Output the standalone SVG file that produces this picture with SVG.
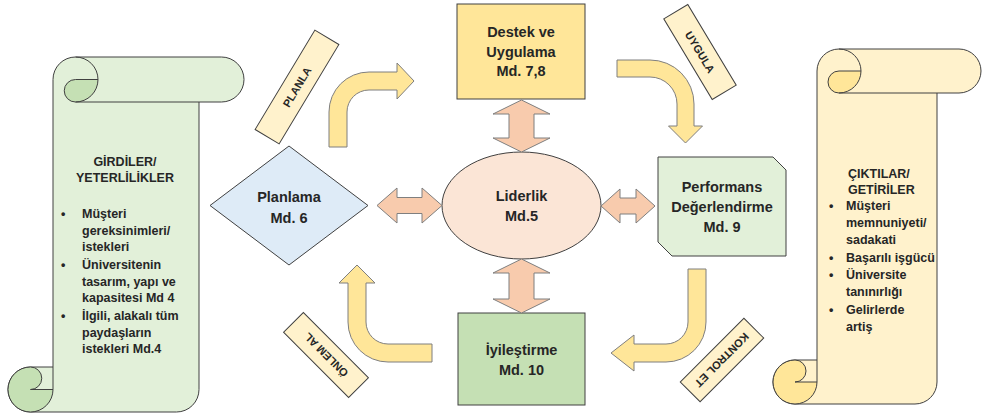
<svg xmlns="http://www.w3.org/2000/svg" width="982" height="415" viewBox="0 0 982 415">
  <style>
    text { font-family: "Liberation Sans", Arial, sans-serif; font-weight: bold; fill: #262626; }
    .node { font-size: 14.5px; text-anchor: middle; }
    .scroll { font-size: 12.5px; }
    .tag { font-size: 11px; text-anchor: middle; }
    .outline { stroke: #404040; stroke-width: 1; }
    .line { fill: none; stroke: #404040; stroke-width: 1; }
    .bend { fill: #FFE699; stroke: #7F7F7F; stroke-width: 1; }
    .link { fill: #F8CBAD; stroke: #7F7F7F; stroke-width: 1; }
    .label { fill: #FFF2CC; stroke: #404040; stroke-width: 1; }
  </style>

  <!-- Inputs scroll -->
  <g id="inputs">
    <path class="outline" fill="#E2F0D9" d="M53,79.5 A22.5,22.5 0 0 1 75.5,57 L221.5,57 A22.5,22.5 0 0 1 221.5,102 L199,102 L199,389.5 A22.5,22.5 0 0 1 176.5,412 L30.5,412 A22.5,22.5 0 0 1 8,389.5 A22.5,22.5 0 0 1 30.5,367 L53,367 Z"/>
    <path class="outline" fill="#C5E0B4" d="M98,79.5 A22.5,22.5 0 0 1 75.5,102 A11.25,11.25 0 0 1 75.5,79.5 Z"/>
    <path class="line" d="M75.5,57 A22.5,22.5 0 0 1 98,79.5 M75.5,102 L199,102 M53,367 L53,389.5"/>
    <path class="outline" fill="#C5E0B4" d="M30.5,389.5 A11.25,11.25 0 0 0 30.5,367 A22.5,22.5 0 1 0 53,389.5 Z"/>
    <text class="scroll" x="125" y="166" text-anchor="middle">GİRDİLER/</text>
    <text class="scroll" x="125" y="182" text-anchor="middle">YETERLİLİKLER</text>
    <text class="scroll" x="61" y="218">•</text>
    <text class="scroll" x="82" y="218">Müşteri</text>
    <text class="scroll" x="82" y="234.5">gereksinimleri/</text>
    <text class="scroll" x="82" y="251">istekleri</text>
    <text class="scroll" x="61" y="269">•</text>
    <text class="scroll" x="82" y="269">Üniversitenin</text>
    <text class="scroll" x="82" y="285.5">tasarım, yapı ve</text>
    <text class="scroll" x="82" y="302">kapasitesi Md 4</text>
    <text class="scroll" x="61" y="320">•</text>
    <text class="scroll" x="82" y="320">İlgili, alakalı tüm</text>
    <text class="scroll" x="82" y="336.5">paydaşların</text>
    <text class="scroll" x="82" y="353">istekleri Md.4</text>
  </g>

  <!-- Outputs scroll -->
  <g id="outputs">
    <path class="outline" fill="#FFF2CC" d="M817,71 A22,22 0 0 1 839,49 L959,49 A22,22 0 0 1 959,93 L937,93 L937,382 A22,22 0 0 1 915,404 L795,404 A22,22 0 0 1 773,382 A22,22 0 0 1 795,360 L817,360 Z"/>
    <path class="outline" fill="#FFE699" d="M861,71 A22,22 0 0 1 839,93 A11,11 0 0 1 839,71 Z"/>
    <path class="line" d="M839,49 A22,22 0 0 1 861,71 M839,93 L937,93 M817,360 L817,382"/>
    <path class="outline" fill="#FFE699" d="M795,382 A11,11 0 0 0 795,360 A22,22 0 1 0 817,382 Z"/>
    <text class="scroll" x="848" y="178">ÇIKTILAR/</text>
    <text class="scroll" x="848" y="194">GETİRİLER</text>
    <text class="scroll" x="829" y="210">•</text>
    <text class="scroll" x="846" y="210">Müşteri</text>
    <text class="scroll" x="846" y="227">memnuniyeti/</text>
    <text class="scroll" x="846" y="244">sadakati</text>
    <text class="scroll" x="829" y="261.5">•</text>
    <text class="scroll" x="846" y="261.5">Başarılı işgücü</text>
    <text class="scroll" x="829" y="279">•</text>
    <text class="scroll" x="846" y="279">Üniversite</text>
    <text class="scroll" x="846" y="296">tanınırlığı</text>
    <text class="scroll" x="829" y="314">•</text>
    <text class="scroll" x="846" y="314">Gelirlerde</text>
    <text class="scroll" x="846" y="331">artiş</text>
  </g>

  <!-- Process nodes -->
  <g id="destek">
    <rect class="outline" fill="#FFE699" x="457" y="4" width="128" height="95"/>
    <text class="node" x="521" y="37">Destek ve</text>
    <text class="node" x="521" y="57">Uygulama</text>
    <text class="node" x="521" y="76">Md. 7,8</text>
  </g>

  <g id="planlama">
    <polygon class="outline" fill="#DEEBF7" points="210,205.5 289,146 368,205.5 289,265"/>
    <text class="node" x="289" y="202">Planlama</text>
    <text class="node" x="289" y="223">Md. 6</text>
  </g>

  <g id="liderlik">
    <ellipse class="outline" fill="#FBE5D6" cx="521.5" cy="205.5" rx="79.5" ry="53.5"/>
    <text class="node" x="521.5" y="201">Liderlik</text>
    <text class="node" x="521.5" y="221">Md.5</text>
  </g>

  <g id="performans">
    <path class="outline" fill="#E2F0D9" d="M658,157 L773,157 L786,170 L786,256 L672,256 L658,242 Z"/>
    <text class="node" x="722" y="192">Performans</text>
    <text class="node" x="722" y="212">Değerlendirme</text>
    <text class="node" x="722" y="232">Md. 9</text>
  </g>

  <g id="iyilestirme">
    <rect class="outline" fill="#C5E0B4" x="458" y="313" width="127" height="92"/>
    <text class="node" x="521.5" y="355">İyileştirme</text>
    <text class="node" x="521.5" y="375">Md. 10</text>
  </g>

  <!-- Cycle step labels -->
  <g id="planla">
    <g transform="translate(297,87) rotate(-59)">
      <rect class="label" x="-58" y="-14" width="116" height="28"/>
      <text class="tag" x="0" y="4">PLANLA</text>
    </g>
  </g>
  <g id="uygula">
    <g transform="translate(700,52) rotate(59)">
      <rect class="label" x="-47" y="-14" width="94" height="28"/>
      <text class="tag" x="0" y="4">UYGULA</text>
    </g>
  </g>
  <g id="kontrol-et">
    <g transform="translate(722,360) rotate(135)">
      <rect class="label" x="-45" y="-14" width="90" height="28"/>
      <text class="tag" x="0" y="4">KONTROL ET</text>
    </g>
  </g>
  <g id="onlem-al">
    <g transform="translate(326,355) rotate(-135)">
      <rect class="label" x="-46" y="-14" width="92" height="28"/>
      <text class="tag" x="0" y="4">ÖNLEM AL</text>
    </g>
  </g>

  <!-- Connectors -->
  <g id="connectors">
    <!-- PDCA cycle bent arrows -->
    <path class="bend" d="M329,147 L329,112 A40,40 0 0 1 369,72 L397,72 L397,63 L414,81 L397,99 L397,90 L369,90 A22,22 0 0 0 347,112 L347,147 Z"/>
    <path class="bend" d="M617,60 L650,60 A44,44 0 0 1 694,104 L694,126 L702.5,126 L685.5,143 L668.5,126 L677,126 L677,104 A27,27 0 0 0 650,77 L617,77 Z"/>
    <path class="bend" d="M706,269 L706,322 A40,40 0 0 1 666,362 L634,362 L634,371 L611,353 L634,335 L634,344 L666,344 A22,22 0 0 0 688,322 L688,269 Z"/>
    <path class="bend" d="M432,344 L388,344 A22,22 0 0 1 366,322 L366,283 L375,283 L357,265 L339,283 L348,283 L348,322 A40,40 0 0 0 388,362 L432,362 Z"/>
    <!-- Two-way links with Liderlik -->
    <path class="link" d="M521.5,100 L550,114 L534,114 L534,138 L550,138 L521.5,152 L493,138 L509,138 L509,114 L493,114 Z"/>
    <path class="link" d="M521.5,259 L550,273 L534,273 L534,299 L550,299 L521.5,313 L493,299 L509,299 L509,273 L493,273 Z"/>
    <path class="link" d="M377,205.5 L397,188 L397,197.5 L422,197.5 L422,188 L442,205.5 L422,223 L422,213.5 L397,213.5 L397,223 Z"/>
    <path class="link" d="M601,206 L620,189 L620,198 L636,198 L636,189 L655,206 L636,223 L636,214 L620,214 L620,223 Z"/>
  </g>
</svg>
